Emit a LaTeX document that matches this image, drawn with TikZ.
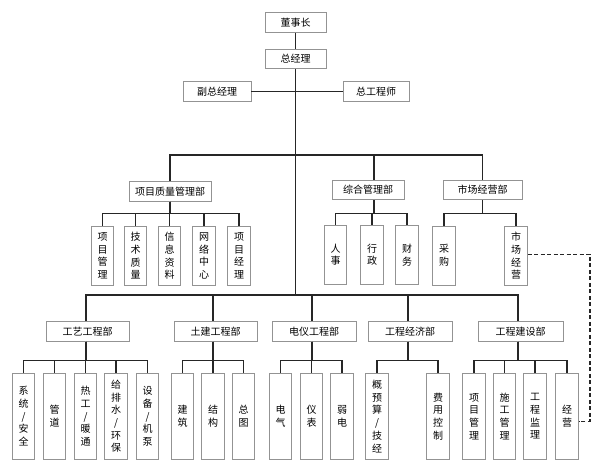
\documentclass[tikz,border=0pt]{standalone}
\usepackage{fontspec}
\newfontfamily\cjk{Noto Sans CJK SC}
\begin{document}
\begin{tikzpicture}[x=1pt,y=-1pt,
  hb/.style={draw=gray!85, line width=0.7pt, fill=white, inner sep=0pt,
    font=\cjk\fontsize{10}{12}\selectfont, minimum height=19.5pt},
  vb/.style={draw=gray!85, line width=0.7pt, fill=white, inner sep=0pt,
    font=\cjk\fontsize{10}{12.7}\selectfont, align=center, anchor=north,
    minimum width=22.5pt},
  vt/.style={vb, minimum height=59pt},
  vl/.style={vb, minimum height=86pt},
  ln/.style={line width=1.2pt, black!85},
  dl/.style={ln, dash pattern=on 4pt off 2.5pt}]
\useasboundingbox[fill=white] (0,0) rectangle (600,471);

% top
\node[hb,minimum width=61pt] (dsz) at (295.5,22.5) {董事长};
\node[hb,minimum width=61pt] (zjl) at (295.5,59) {总经理};
\node[hb,minimum width=68pt] (fzjl) at (217,91.5) {副总经理};
\node[hb,minimum width=66pt] (zgcs) at (376,91.5) {总工程师};

% level 2
\node[hb,minimum width=82pt] (xmzl) at (170,191.5) {项目质量管理部};
\node[hb,minimum width=72pt] (zhgl) at (368,190) {综合管理部};
\node[hb,minimum width=79pt] (scjy) at (482.5,190) {市场经营部};

% level 2 children
\node[vt] (xmgl) at (102.5,226) {项\\目\\管\\理};
\node[vt] (jszl) at (135.5,226) {技\\术\\质\\量};
\node[vt] (xxzl) at (169.5,226) {信\\息\\资\\料};
\node[vt] (wlzx) at (204,226) {网\\络\\中\\心};
\node[vt] (xmjl) at (239,226) {项\\目\\经\\理};
\node[vt] (rs) at (335.5,225) {人\\事};
\node[vt] (xz) at (372,225) {行\\政};
\node[vt] (cw) at (407,225) {财\\务};
\node[vt] (cg) at (444,225.5) {采\\购};
\node[vt] (scjy2) at (516,226) {市\\场\\经\\营};

% level 3
\node[hb,minimum width=83pt] (gygc) at (87.5,331.5) {工艺工程部};
\node[hb,minimum width=83pt] (tjgc) at (215.5,331.5) {土建工程部};
\node[hb,minimum width=84pt] (dygc) at (314,331.5) {电仪工程部};
\node[hb,minimum width=84pt] (gcjj) at (410,331.5) {工程经济部};
\node[hb,minimum width=85pt] (gcjs) at (520.5,331.5) {工程建设部};

% level 3 children
\node[vl] (xtaq) at (23.5,373) {系\\统\\/\\安\\全};
\node[vl] (gd) at (54.5,373) {管\\道};
\node[vl] (rgnt) at (85.5,373) {热\\工\\/\\暖\\通};
\node[vl] (gps) at (116,373) {给\\排\\水\\/\\环\\保};
\node[vl] (sbjb) at (147.5,373) {设\\备\\/\\机\\泵};
\node[vl] (jz) at (182.5,373) {建\\筑};
\node[vl] (jg) at (213,373) {结\\构};
\node[vl] (zt) at (243.5,373) {总\\图};
\node[vl] (dq) at (280.5,373) {电\\气};
\node[vl] (yb) at (311.5,373) {仪\\表};
\node[vl] (rd) at (342,373) {弱\\电};
\node[vl] (gys) at (377,373) {概\\预\\算\\/\\技\\经};
\node[vl] (fykz) at (438,373) {费\\用\\控\\制};
\node[vl] (xmgl2) at (474,373) {项\\目\\管\\理};
\node[vl] (sggl) at (504.5,373) {施\\工\\管\\理};
\node[vl] (gcjl) at (535,373) {工\\程\\监\\理};
\node[vl] (jy) at (567,373) {经\\营};

% trunk
\coordinate (b2) at (295.5,155);
\coordinate (b3) at (295.5,295);
\draw[ln] (dsz.south) -- (zjl.north);
\draw[ln] (zjl.south) -- (b3);
\draw[ln] (fzjl.east) -- (zgcs.west);

% level 2 bus
\draw[ln] (b2) -| (xmzl.north);
\draw[ln] (b2) -| ([xshift=6pt]zhgl.north);
\draw[ln] (b2) -| (scjy.north);

\foreach \c in {xmgl,jszl,xxzl,wlzx,xmjl}
  \draw[ln] (xmzl.south) -- ++(0,12) -| (\c.north);
\foreach \c in {rs,xz,cw}
  \draw[ln] ([xshift=6pt]zhgl.south) -- ++(0,13.5) -| (\c.north);
\foreach \c in {cg,scjy2}
  \draw[ln] (scjy.south) -- ++(0,13) -| (\c.north);

% level 3 bus
\draw[ln] (b3) -| ([xshift=-1.5pt]gygc.north);
\draw[ln] (b3) -| ([xshift=-2.5pt]tjgc.north);
\draw[ln] (b3) -| ([xshift=-2pt]dygc.north);
\draw[ln] (b3) -| ([xshift=-2pt]gcjj.north);
\draw[ln] (b3) -| ([xshift=-2.5pt]gcjs.north);

\foreach \c in {xtaq,gd,rgnt,gps,sbjb}
  \draw[ln] ([xshift=-1.5pt]gygc.south) -- ++(0,19) -| (\c.north);
\foreach \c in {jz,jg,zt}
  \draw[ln] ([xshift=-2.5pt]tjgc.south) -- ++(0,19) -| (\c.north);
\foreach \c in {dq,yb,rd}
  \draw[ln] ([xshift=-2pt]dygc.south) -- ++(0,19) -| (\c.north);
\foreach \c in {gys,fykz}
  \draw[ln] ([xshift=-2pt]gcjj.south) -- ++(0,19) -| (\c.north);
\foreach \c in {xmgl2,sggl,gcjl,jy}
  \draw[ln] ([xshift=-2.5pt]gcjs.south) -- ++(0,19) -| (\c.north);

% dashed link
\coordinate (dc) at (590,330);
\draw[dl] ([yshift=1.5pt]scjy2.east) -| (dc) |- ([yshift=-5pt]jy.east);
\end{tikzpicture}
\end{document}
